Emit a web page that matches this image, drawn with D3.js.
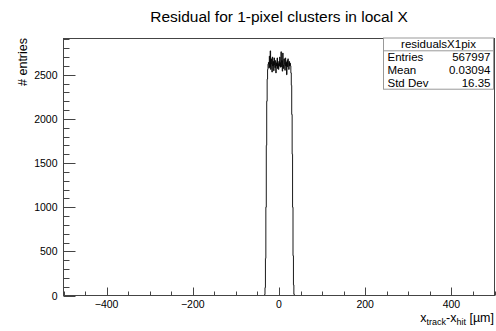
<!DOCTYPE html>
<html>
<head>
<meta charset="utf-8">
<script src="https://cdn.jsdelivr.net/npm/d3@7"></script>
<style>
html,body{margin:0;padding:0;background:#fff;}
svg{display:block;}
text{font-family:"Liberation Sans",Arial,Helvetica,sans-serif;fill:#000;}
</style>
</head>
<body>
<svg id="chart" width="496" height="331"></svg>
<script>
// ---- data ----
const title = "Residual for 1-pixel clusters in local X";
const xDomain = [-500, 500];
const yDomain = [0, 2910];
const xMajorTicks = [-400, -200, 0, 200, 400];
const yMajorTicks = [0, 500, 1000, 1500, 2000, 2500];
const binWidth = 1;            // µm
const firstBinLow = -34.5;     // low edge of first listed bin
const binCounts = [
  0, 10, 90, 420, 1000, 1700, 2200, 2450, 2560, 2620,
  2640, 2575, 2710, 2590, 2770, 2560, 2680, 2620, 2530, 2700,
  2600, 2650, 2545, 2690, 2610, 2580, 2660, 2520, 2635, 2600,
  2690, 2570, 2625, 2560, 2650, 2600, 2700, 2585, 2640, 2760,
  2590, 2660, 2540, 2745, 2610, 2570, 2680, 2620, 2550, 2690,
  2600, 2640, 2500, 2660, 2590, 2680, 2620, 2560, 2650, 2600,
  2630, 2600, 2520, 2380, 2050, 1600, 1000, 450, 120, 15, 0
];
const statsName = "residualsX1pix";
const statsLabels = ["Entries", "Mean", "Std Dev"];
const statsValues = ["567997", "0.03094", "16.35"];
const xTitleParts = ["x", "track", "-x", "hit", " [µm]"];
const yTitle = "# entries";

// ---- layout ----
const svg = d3.select("#chart");
const L = 63.5, R = 494.5, T = 38.5, B = 295.5;
const x = d3.scaleLinear().domain(xDomain).range([L, R]);
const y = d3.scaleLinear().domain(yDomain).range([B, T]);
const axisColor = "#444";

// title
svg.append("text").attr("x", 279).attr("y", 22).attr("text-anchor", "middle")
  .attr("font-size", 15.5).text(title);

// histogram path
const pts = [[xDomain[0], 0]];
binCounts.forEach((c, i) => pts.push([firstBinLow + i * binWidth, c]));
pts.push([firstBinLow + binCounts.length * binWidth, 0]);
pts.push([xDomain[1], 0]);
const line = d3.line().x(d => x(d[0])).y(d => y(d[1])).curve(d3.curveStepAfter);
svg.append("path").attr("d", line(pts)).attr("fill", "none")
  .attr("stroke", "#000").attr("stroke-width", 0.9);

// frame
svg.append("rect").attr("x", L).attr("y", T).attr("width", R - L).attr("height", B - T)
  .attr("fill", "none").attr("stroke", axisColor).attr("stroke-width", 1);

// x axis ticks (inside, ROOT style)
const xMinor = d3.range(-500, 501, 50);
const gx = svg.append("g");
xMinor.forEach(v => {
  const major = xMajorTicks.includes(v) || v % 200 === 0;
  gx.append("line").attr("x1", Math.round(x(v)) + 0.5).attr("x2", Math.round(x(v)) + 0.5)
    .attr("y1", B).attr("y2", B - (major ? 8 : 4))
    .attr("stroke", axisColor).attr("stroke-width", 1);
});
xMajorTicks.forEach(v => {
  gx.append("text").attr("x", x(v)).attr("y", B + 12.5).attr("text-anchor", "middle")
    .attr("font-size", 10.5).text(d3.format("")(v).replace("-", "\u2212"));
});

// y axis ticks
const gy = svg.append("g");
d3.range(0, 2901, 100).forEach(v => {
  const major = v % 500 === 0;
  gy.append("line").attr("x1", L).attr("x2", L + (major ? 12 : 6))
    .attr("y1", Math.round(y(v)) + 0.5).attr("y2", Math.round(y(v)) + 0.5)
    .attr("stroke", axisColor).attr("stroke-width", 1);
});
yMajorTicks.forEach(v => {
  gy.append("text").attr("x", L - 6).attr("y", y(v) + 4).attr("text-anchor", "end")
    .attr("font-size", 10.5).text(v);
});

// axis titles
const xt = svg.append("text").attr("x", 494).attr("y", 322).attr("text-anchor", "end")
  .attr("font-size", 12.5);
xt.append("tspan").text(xTitleParts[0]);
xt.append("tspan").attr("dy", 3).attr("font-size", 9).text(xTitleParts[1]);
xt.append("tspan").attr("dy", -3).text(xTitleParts[2]);
xt.append("tspan").attr("dy", 3).attr("font-size", 9).text(xTitleParts[3]);
xt.append("tspan").attr("dy", -3).text(xTitleParts[4]);

svg.append("text").attr("transform", "translate(27,38) rotate(-90)")
  .attr("text-anchor", "end").attr("font-size", 12.5).text(yTitle);

// stats box
const sx = 383.5, sw = 110, sy = T - 0.5, rowH = 12.8;
const sh = rowH * 4;
svg.append("rect").attr("x", sx).attr("y", sy).attr("width", sw).attr("height", sh)
  .attr("fill", "#fff").attr("stroke", "#999").attr("stroke-width", 1);
svg.append("line").attr("x1", sx).attr("x2", sx + sw).attr("y1", sy + rowH).attr("y2", sy + rowH)
  .attr("stroke", "#999");
svg.append("text").attr("x", sx + sw / 2).attr("y", sy + rowH - 2.5).attr("text-anchor", "middle")
  .attr("font-size", 11.5).text(statsName);
statsLabels.forEach((lab, i) => {
  const by = sy + rowH * (i + 2) - 2.5;
  svg.append("text").attr("x", sx + 4).attr("y", by).attr("font-size", 11.5).text(lab);
  svg.append("text").attr("x", sx + sw - 3).attr("y", by).attr("text-anchor", "end")
    .attr("font-size", 11.5).text(statsValues[i]);
});
</script>
</body>
</html>
